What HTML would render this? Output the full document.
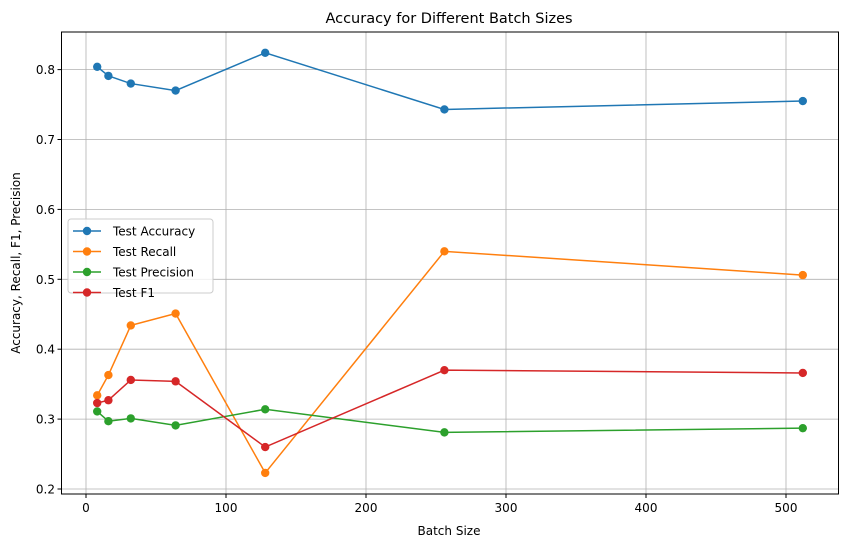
<!DOCTYPE html>
<html><head><meta charset="utf-8"><style>
body{margin:0;background:#fff;}
svg text{font-family:"DejaVu Sans","Liberation Sans",sans-serif;fill:#000;}
</style></head><body>
<svg id="chart" width="846" height="547" xmlns="http://www.w3.org/2000/svg">
<rect width="846" height="547" fill="#fff"/>
<g id="grid"></g>
<g id="series"></g>
<rect x="61.5" y="32" width="777" height="462" fill="none" stroke="#000" stroke-width="1"/>
<g id="axes"></g>
<text x="449" y="23" font-size="14.5" text-anchor="middle">Accuracy for Different Batch Sizes</text>
<text x="449" y="535" font-size="12" text-anchor="middle">Batch Size</text>
<text transform="translate(20,263) rotate(-90)" font-size="12" text-anchor="middle">Accuracy, Recall, F1, Precision</text>
<g id="legend"></g>
</svg>
<script>
const batchSizes=[8,16,32,64,128,256,512];
const accuracy=[0.804,0.791,0.780,0.770,0.824,0.743,0.755];
const recall=[0.334,0.363,0.434,0.451,0.223,0.540,0.506];
const precision=[0.311,0.297,0.301,0.291,0.314,0.281,0.287];
const f1=[0.323,0.327,0.356,0.354,0.260,0.370,0.366];
const xTicks=[0,100,200,300,400,500];
const yTicks=[0.2,0.3,0.4,0.5,0.6,0.7,0.8];
const seriesNames=["Test Accuracy","Test Recall","Test Precision","Test F1"];
const colors=["#1f77b4","#ff7f0e","#2ca02c","#d62728"];
const NS="http://www.w3.org/2000/svg";
function X(v){return 86+1.40*v;}
function Y(v){return 489-699*(v-0.2);}
function mk(tag,attrs,parent){const e=document.createElementNS(NS,tag);for(const k in attrs)e.setAttribute(k,attrs[k]);parent.appendChild(e);return e;}
const grid=document.getElementById('grid'),axes=document.getElementById('axes');
xTicks.forEach(t=>{
  const gl=mk('line',{x1:X(t),x2:X(t),y1:32,y2:494,stroke:'#b0b0b0','stroke-width':0.8},grid);
  
  
  mk('line',{x1:X(t),x2:X(t),y1:494,y2:498,stroke:'#000'},axes);
  const tx=mk('text',{x:X(t),y:512,'font-size':12,'text-anchor':'middle'},axes);
  tx.textContent=t;
  
  
});
yTicks.forEach(t=>{
  const gl=mk('line',{x1:61.5,x2:838.5,y1:Y(t),y2:Y(t),stroke:'#b0b0b0','stroke-width':0.8},grid);
  
  
  mk('line',{x1:57.5,x2:61.5,y1:Y(t),y2:Y(t),stroke:'#000'},axes);
  const tx=mk('text',{x:55,y:Y(t)+4.5,'font-size':12,'text-anchor':'end'},axes);
  tx.textContent=t.toFixed(1);
  
  
});
const sg=document.getElementById('series');
[accuracy,recall,precision,f1].forEach((vals,i)=>{
  const g=mk('g',{},sg);
  
  
  const pts=vals.map((v,j)=>X(batchSizes[j])+','+Y(v)).join(' ');
  mk('polyline',{points:pts,fill:'none',stroke:colors[i],'stroke-width':1.5},g);
  vals.forEach((v,j)=>{
    const c=mk('circle',{cx:X(batchSizes[j]),cy:Y(v),r:4.2,fill:colors[i]},g);
    
    
  });
});
const lg=document.getElementById('legend');
mk('rect',{x:68,y:219,width:145,height:74,rx:3,fill:'#fff','fill-opacity':0.8,stroke:'#ccc'},lg);
seriesNames.forEach((n,i)=>{
  const y=231+i*20.5;
  const e=mk('g',{},lg);
  
  
  mk('line',{x1:73,x2:101,y1:y,y2:y,stroke:colors[i],'stroke-width':1.5},e);
  mk('circle',{cx:87,cy:y,r:4.2,fill:colors[i]},e);
  const t=mk('text',{x:113,y:y+4.5,'font-size':12},e);
  t.textContent=n;
});
</script>
</body></html>
